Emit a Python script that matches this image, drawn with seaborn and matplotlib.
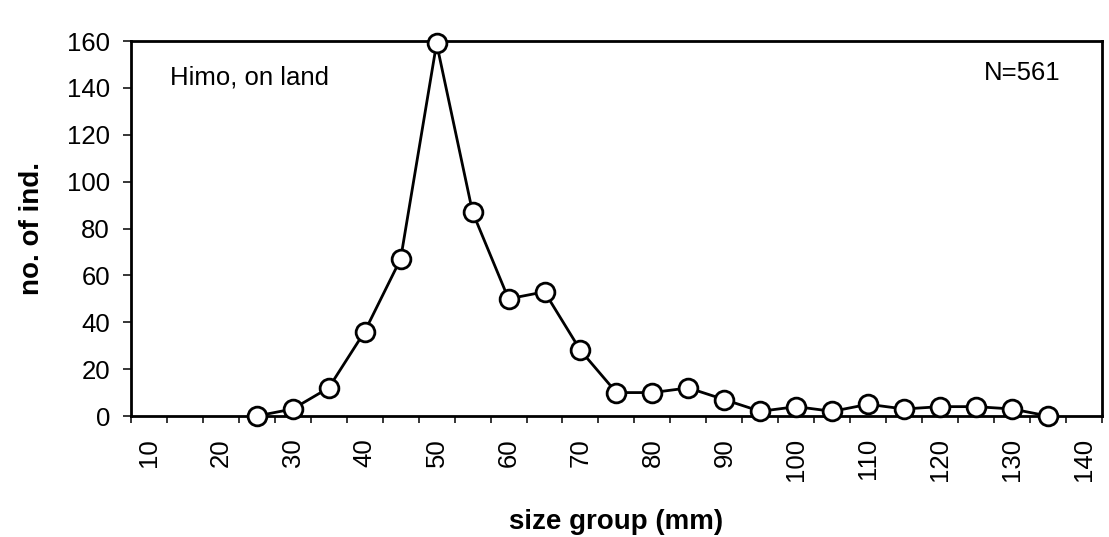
import matplotlib
matplotlib.use("Agg")
import matplotlib.pyplot as plt
import seaborn as sns
import numpy as np
import pandas as pd

sizes = [25, 30, 35, 40, 45, 50, 55, 60, 65, 70, 75, 80, 85, 90, 95, 100, 105, 110, 115, 120, 125, 130, 135]
counts = [0, 3, 12, 36, 67, 159, 87, 50, 53, 28, 10, 10, 12, 7, 2, 4, 2, 5, 3, 4, 4, 3, 0]
categories = list(range(10, 145, 5))
tick_labels = [str(v) for v in range(10, 150, 10)]
y_ticks = list(range(0, 161, 20))

sns.set_theme(style="white")
plt.rcParams['font.family'] = ['Liberation Sans', 'DejaVu Sans']
plt.rcParams['text.color'] = 'black'
plt.rcParams['axes.labelcolor'] = 'black'
plt.rcParams['xtick.color'] = 'black'
plt.rcParams['ytick.color'] = 'black'

fig = plt.figure(figsize=(11.09, 5.37), dpi=100)
ax = fig.add_axes([0.118, 0.2253, 0.8757, 0.6983])

df = pd.DataFrame({"size": sizes, "count": counts})
sns.lineplot(data=df, x="size", y="count", ax=ax, color="black", linewidth=2,
             marker="o", markersize=13.5, markerfacecolor="white",
             markeredgecolor="black", markeredgewidth=2, clip_on=False, zorder=5)

ax.set_xlim(categories[0] - 2.5, categories[-1] + 2.5)
ax.set_ylim(0, 160)

# category boundaries as tick marks, labels every second category
bounds = [c - 2.5 for c in categories] + [categories[-1] + 2.5]
ax.set_xticks(bounds, minor=True)
ax.set_xticks([int(t) for t in tick_labels])
ax.set_xticklabels(tick_labels, rotation=90, fontsize=18.5)
ax.tick_params(axis="x", which="major", length=0, pad=16)
ax.tick_params(axis="x", which="minor", length=5, width=1.1, color="black", direction="out", bottom=True)

ax.set_yticks(y_ticks)
ax.set_yticklabels([str(v) for v in y_ticks], fontsize=18.5)
ax.tick_params(axis="y", length=6, width=1.1, color="black", direction="out", left=True, pad=9)

for s in ax.spines.values():
    s.set_color("black")
    s.set_linewidth(2)
    s.set_visible(True)

ax.set_xlabel("size group (mm)", fontsize=20, fontweight="bold")
ax.xaxis.set_label_coords(0.5, -0.283)
ax.xaxis.label.set_va("center")
ax.set_ylabel("no. of ind.", fontsize=20, fontweight="bold")
ax.yaxis.set_label_coords(-0.102, 0.5)
ax.yaxis.label.set_va("center")

ax.text(0.0402, 0.883, "Himo, on land", transform=ax.transAxes, fontsize=18.5, va="baseline", ha="left")
ax.text(0.9568, 0.896, "N=561", transform=ax.transAxes, fontsize=18.5, va="baseline", ha="right")

fig.savefig("out.png", dpi=100)
